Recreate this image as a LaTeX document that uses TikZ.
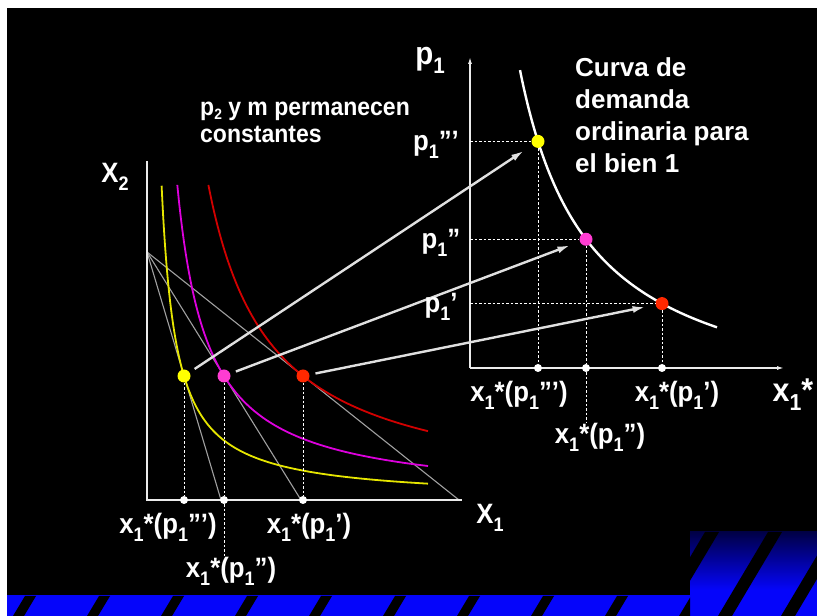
\documentclass[tikz,border=0pt]{standalone}
\usepackage{fontspec}
\setmainfont{Liberation Sans}
\newfontfamily\lblfont{Liberation Sans}[FakeStretch=0.92, Ligatures=TeX]
\usepackage{tikz}
\usetikzlibrary{arrows.meta}

\definecolor{stripeblue}{RGB}{5,5,250}
\definecolor{stripenavy}{RGB}{0,0,70}
\definecolor{curveyellow}{RGB}{230,230,0}
\definecolor{curvemagenta}{RGB}{220,0,220}
\definecolor{curvered}{RGB}{210,0,0}
\definecolor{dotyellow}{RGB}{255,255,0}
\definecolor{dotmagenta}{RGB}{255,60,210}
\definecolor{dotred}{RGB}{255,40,0}
\definecolor{budgetgray}{RGB}{160,160,160}

\newcommand{\subdig}[1]{\raisebox{-.28em}{\scalebox{.7}{#1}}}
\newcommand{\smallsub}[1]{\raisebox{-.15em}{\scalebox{.6}{#1}}}
\newcommand{\demx}[1]{x\subdig{1}*(p\subdig{1}#1)}

\begin{document}
\begin{tikzpicture}[x=1pt,y=1pt,
  axis/.style={draw=white!92!black, line width=1.8pt},
  budget/.style={draw=budgetgray, line width=1.1pt},
  guide/.style={draw=white, line width=0.9pt, dash pattern=on 2.5pt off 2pt},
  link/.style={draw=white!88!black, line width=2.4pt, -{Latex[length=13pt,width=7pt]}, shorten <=6pt, shorten >=10pt},
  bigdot/.style={circle, inner sep=0pt, minimum size=13pt},
  axdot/.style={circle, fill=white, inner sep=0pt, minimum size=8pt},
  lbl/.style={text=white, font=\lblfont\bfseries\fontsize{28}{30}\selectfont, inner sep=0pt},
  txt/.style={text=white, font=\bfseries\fontsize{26}{32}\selectfont, inner sep=0pt, align=left}]
\useasboundingbox (0,0) rectangle (817,616);
% objects at depth 100:
\path[fill=black] (7,0) rectangle (817,608);
\path[fill=stripeblue] (7,0) rectangle (817,26);
\shade[top color=stripenavy, bottom color=stripeblue] (690,26) rectangle (817,84);
\begin{scope}
\clip (7,0) rectangle (690,26);
\foreach \k in {0,...,9}
  \path[fill=black] ({13+74*\k},0) -- ({24+74*\k},0) -- ({36+74*\k},20) -- ({25+74*\k},20) -- cycle;
\end{scope}
\begin{scope}
\clip (690,0) rectangle (817,84);
\foreach \k in {0,1,2}
  \path[fill=black] ({655+63*\k},0) -- ({669+63*\k},0) -- ({719+63*\k},84) -- ({705+63*\k},84) -- cycle;
\end{scope}
\path[fill=black] (7,21) rectangle (690,608);
% objects at depth 80:
\coordinate (O) at (147,116);
\coordinate (x2top) at (147,455);
\coordinate (x1end) at (462,116);
\coordinate (B) at (147,364);
\coordinate (ycut) at (221,116);
\coordinate (mcut) at (301,116);
\coordinate (rcut) at (459,116);
\draw[budget] (B) -- (ycut);
\draw[budget] (B) -- (mcut);
\draw[budget] (B) -- (rcut);
\draw[curveyellow, line width=1.8pt] plot[domain=14.6:281, samples=160, smooth] ({147+\x},{116+100*(45.88/\x)});
\draw[curvemagenta, line width=1.8pt] plot[domain=30.3:281, samples=160, smooth] ({147+\x},{116+100*(95.48/\x)});
\draw[curvered, line width=1.8pt] plot[domain=61.4:281, samples=160, smooth] ({147+\x},{116+100*(193.44/\x)});
\draw[axis] (x2top) -- (O) -- (x1end);
% objects at depth 60:
\coordinate (O2) at (470,248);
\coordinate (p1top) at (470,559);
\coordinate (x1send) at (784,248);
\draw[axis, line width=1.3pt, -{Latex[length=7pt,width=4pt]}] (O2) -- (p1top);
\draw[axis, line width=1.3pt, -{Latex[length=7pt,width=4pt]}] (O2) -- (x1send);
\draw[white, line width=2.4pt] plot[domain=50:247, samples=120, smooth] ({470+\x},{248+100*(244/(\x+20))-50.7});
% objects at depth 40:
\node[bigdot, fill=dotyellow] (yl) at (184,240) {};
\node[bigdot, fill=dotmagenta] (ml) at (224,240) {};
\node[bigdot, fill=dotred] (rl) at (303,240) {};
\node[axdot] (ya) at (184,116) {};
\node[axdot] (ma) at (224,116) {};
\node[axdot] (ra) at (303,116) {};
\coordinate (mlow) at (224,60);
\node[bigdot, fill=dotyellow] (yr) at (538,474.6) {};
\node[bigdot, fill=dotmagenta] (mr) at (586,376.7) {};
\node[bigdot, fill=dotred] (rr) at (662,312.4) {};
\node[axdot] (yb) at (538,248) {};
\node[axdot] (mb) at (586,248) {};
\node[axdot] (rb) at (662,248) {};
\coordinate (mlow2) at (586,194);
\coordinate (yp) at (470,474.6);
\coordinate (mp) at (470,376.7);
\coordinate (rp) at (470,312.4);
\draw[guide] (yl) -- (ya);
\draw[guide] (ml) -- (ma);
\draw[guide] (ma) -- (mlow);
\draw[guide] (rl) -- (ra);
\draw[guide] (yp) -- (yr);
\draw[guide] (mp) -- (mr);
\draw[guide] (rp) -- (rr);
\draw[guide] (yr) -- (yb);
\draw[guide] (mr) -- (mb);
\draw[guide] (mb) -- (mlow2);
\draw[guide] (rr) -- (rb);
\draw[link] (yl) -- (yr);
\draw[link] (ml) -- (mr);
\draw[link] (rl) -- (rr);
% objects at depth 20:
\node[lbl] (x2lbl) at (115,439) {X\subdig{2}};
\node[lbl] (x1lbl) at (490,98) {X\subdig{1}};
\node[lbl] (lyl) at (168,89) {\demx{'''}};
\node[lbl] (lrl) at (309,89) {\demx{'}};
\node[lbl] (lml) at (231,45) {\demx{''}};
\node[lbl] (ryl) at (519,221) {\demx{'''}};
\node[lbl] (rrl) at (677,221) {\demx{'}};
\node[lbl] (rml) at (600,179) {\demx{''}};
\node[lbl, font=\lblfont\bfseries\fontsize{33}{36}\selectfont] (xslbl) at (793,221) {x\subdig{1}*};
\node[lbl, font=\lblfont\bfseries\fontsize{32}{36}\selectfont] (p1lbl) at (430,556) {p\subdig{1}};
\node[lbl] (p3lbl) at (436,471) {p\subdig{1}'''};
\node[lbl] (p2lbl) at (441,373) {p\subdig{1}''};
\node[lbl] (p1plbl) at (441,309) {p\subdig{1}'};
\node[txt, anchor=base west] (curva) at (575,443) {Curva de\\demanda\\ordinaria para\\el bien 1};
\node[lbl, font=\lblfont\bfseries\fontsize{25}{27}\selectfont, align=left, anchor=base west] (const) at (200,473) {p\smallsub{2} y m permanecen\\constantes};
\end{tikzpicture}
\end{document}
